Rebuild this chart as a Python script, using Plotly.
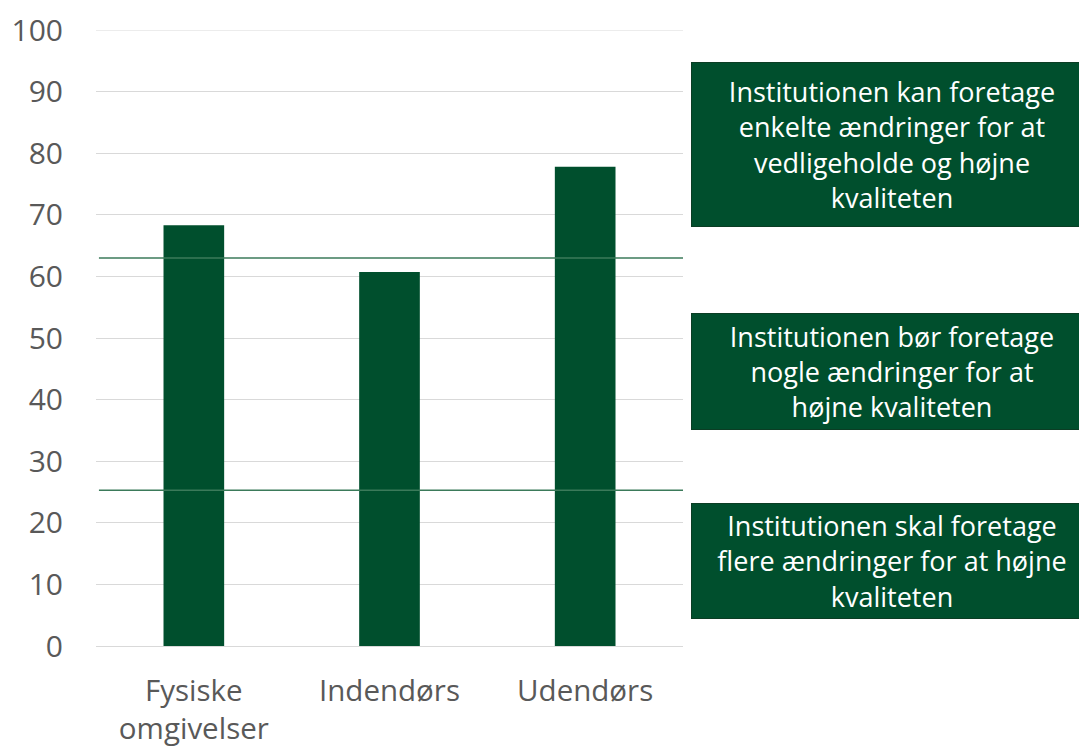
import plotly.graph_objects as go

categories = ["Fysiske<br>omgivelser", "Indendørs", "Udendørs"]
values = [68.3, 60.7, 77.8]
threshold_values = [63.0, 25.3]
box_texts = [
    "Institutionen kan foretage<br>enkelte ændringer for at<br>vedligeholde og højne<br>kvaliteten",
    "Institutionen bør foretage<br>nogle ændringer for at<br>højne kvaliteten",
    "Institutionen skal foretage<br>flere ændringer for at højne<br>kvaliteten",
]
box_y = [81.4, 44.6, 13.8]
box_h = [163, 115, 114]

GREEN = "#004F2D"
FONT = "Open Sans"

fig = go.Figure()
fig.add_trace(go.Bar(x=categories, y=values, marker=dict(color=GREEN, line=dict(width=0)),
                     width=0.31, showlegend=False))

# top gridline (at the range edge)
fig.add_shape(type="line", xref="paper", yref="y", x0=0, x1=1, y0=100, y1=100,
              line=dict(color="#D9D9D9", width=1), layer="below")

for tv in threshold_values:
    fig.add_shape(type="line", xref="paper", yref="y", x0=0.005, x1=1.0, y0=tv, y1=tv,
                  line=dict(color="#3B7A5A", width=1.5))

for t, yv, h in zip(box_texts, box_y, box_h):
    fig.add_annotation(text=t, xref="paper", yref="y", x=(892 - 96) / 587, y=yv,
                       xanchor="center", yanchor="middle", showarrow=False,
                       width=400, height=h, bgcolor=GREEN, bordercolor="#0B3D24",
                       borderwidth=1, borderpad=0, align="center",
                       font=dict(family=FONT, size=27, color="white"))

fig.update_layout(
    width=1087, height=754,
    margin=dict(l=88, r=412, t=22, b=116),
    plot_bgcolor="white", paper_bgcolor="white",
    font=dict(family=FONT, size=28, color="#595959"),
    bargap=0.69,
    xaxis=dict(showline=False, ticks="", ticklabelstandoff=24, automargin=False,
               tickfont=dict(size=29.5, color="#595959")),
    yaxis=dict(range=[0, 100], dtick=10, showgrid=True, gridcolor="#D9D9D9", gridwidth=1,
               zeroline=True, zerolinecolor="#D9D9D9", zerolinewidth=1, automargin=False,
               ticks="", ticklabelstandoff=32, tickfont=dict(size=30, color="#595959")),
)

fig.write_html("out.html")
